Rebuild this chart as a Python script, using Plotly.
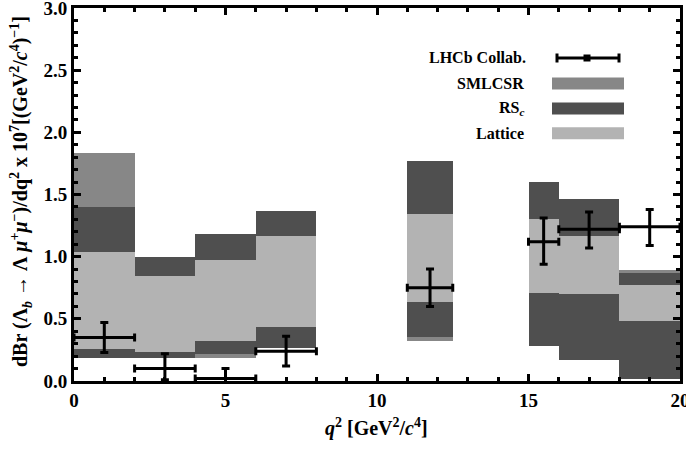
import plotly.graph_objects as go

# ---------------- data ----------------
bin_lo = [0, 2, 4, 6, 11, 15, 16, 18]
bin_hi = [2, 4, 6, 8, 12.5, 16, 18, 20]

sml_lo = [0.19, 0.20, 0.183, 0.27, 0.32, 0.35, 0.25, 0.05]
sml_hi = [1.83, 0.95, 1.10, 1.30, 1.70, 1.50, 1.40, 0.895]

rs_lo = [0.183, 0.183, 0.218, 0.264, 0.352, 0.285, 0.17, 0.016]
rs_hi = [1.40, 1.00, 1.18, 1.365, 1.766, 1.60, 1.465, 0.868]

lat_lo = [0.258, 0.236, 0.32, 0.433, 0.634, 0.707, 0.70, 0.484]
lat_hi = [1.04, 0.847, 0.97, 1.17, 1.347, 1.30, 1.17, 0.77]

lhcb_x = [1, 3, 5, 7, 11.75, 15.5, 17, 19]
lhcb_xerr = [1, 1, 1, 1, 0.75, 0.5, 1, 1]
lhcb_y = [0.35, 0.10, 0.02, 0.24, 0.75, 1.12, 1.22, 1.24]
lhcb_up = [0.12, 0.12, 0.08, 0.12, 0.15, 0.19, 0.14, 0.14]
lhcb_dn = [0.12, 0.09, 0.10, 0.12, 0.15, 0.18, 0.15, 0.15]

series_names = ["SMLCSR", "RS<sub><i>c</i></sub>", "Lattice"]
series_colors = ["#878787", "#4f4f4f", "#b3b3b3"]

FONT = "Liberation Serif"

centers = [(a + b) / 2 for a, b in zip(bin_lo, bin_hi)]
widths = [b - a for a, b in zip(bin_lo, bin_hi)]

fig = go.Figure()
for lo, hi, col, name in zip([sml_lo, rs_lo, lat_lo], [sml_hi, rs_hi, lat_hi],
                             series_colors, series_names):
    fig.add_trace(go.Bar(
        x=centers, width=widths, base=lo, y=[h - l for l, h in zip(lo, hi)],
        marker=dict(color=col, line=dict(width=0)), name=name, showlegend=False,
        hoverinfo="skip"))

fig.add_trace(go.Scatter(
    x=lhcb_x, y=lhcb_y, mode="markers",
    marker=dict(color="black", size=3),
    error_x=dict(type="data", array=lhcb_xerr, color="black", thickness=3, width=4),
    error_y=dict(type="data", symmetric=False, array=lhcb_up, arrayminus=lhcb_dn,
                 color="black", thickness=3, width=4),
    name="LHCb Collab.", showlegend=False))

# ---------------- layout geometry ----------------
W, H = 686, 449
ML, MR, MT, MB = 74, 6, 8, 68
PW, PH = W - ML - MR, H - MT - MB


def px(x):
    return (x - ML) / PW


def py(y):
    return (H - MB - y) / PH


shapes = []
annotations = []

# manual legend
leg_text_right = 526
rows = [("LHCb Collab.", 58, None), (series_names[0], 83.5, series_colors[0]),
        (series_names[1], 108.5, series_colors[1]), (series_names[2], 133.3, series_colors[2])]
for label, yy, col in rows:
    annotations.append(dict(xref="paper", yref="paper", x=px(leg_text_right + (2 if col is None else 0)),
                            y=py(yy), xanchor="right", yanchor="middle", showarrow=False,
                            text="<b>" + label + "</b>",
                            font=dict(family=FONT, size=16, color="black")))
    if col is not None:
        shapes.append(dict(type="rect", xref="paper", yref="paper",
                           x0=px(552), x1=px(624), y0=py(yy - 6), y1=py(yy + 6),
                           fillcolor=col, line=dict(width=0)))
    else:
        shapes.append(dict(type="line", xref="paper", yref="paper",
                           x0=px(557), x1=px(619), y0=py(yy), y1=py(yy),
                           line=dict(color="black", width=3)))
        for cx in (557, 619):
            shapes.append(dict(type="line", xref="paper", yref="paper",
                               x0=px(cx), x1=px(cx), y0=py(yy - 4.5), y1=py(yy + 4.5),
                               line=dict(color="black", width=3)))
        shapes.append(dict(type="rect", xref="paper", yref="paper",
                           x0=px(583.5), x1=px(590.5), y0=py(yy - 3.5), y1=py(yy + 3.5),
                           fillcolor="black", line=dict(width=0)))

# axis titles
annotations.append(dict(xref="paper", yref="paper", x=px(21), y=py(192),
                        xanchor="center", yanchor="middle", textangle=-90, showarrow=False,
                        text="<b>dBr (Λ<sub><i>b</i></sub> → Λ <i>μ</i><sup>+</sup><i>μ</i><sup>−</sup>)/dq<sup>2</sup>"
                             " x 10<sup>7</sup>[(GeV<sup>2</sup>/<i>c</i><sup>4</sup>)<sup>−1</sup>]</b>",
                        font=dict(family=FONT, size=20, color="black")))
annotations.append(dict(xref="paper", yref="paper", x=px(376), y=py(427),
                        xanchor="center", yanchor="middle", showarrow=False,
                        text="<b><i>q</i><sup>2</sup> [GeV<sup>2</sup>/<i>c</i><sup>4</sup>]</b>",
                        font=dict(family=FONT, size=20, color="black")))

axis_common = dict(showline=True, linewidth=3, linecolor="black", mirror="allticks",
                   ticks="inside", tickcolor="black", tickwidth=2.5, ticklen=7,
                   showgrid=False, zeroline=False, automargin=False,
                   ticklabeloverflow="allow",
                   tickfont=dict(family=FONT, size=19, color="black"))

fig.update_layout(
    width=W, height=H,
    margin=dict(l=ML, r=MR, t=MT, b=MB),
    paper_bgcolor="white", plot_bgcolor="white",
    barmode="overlay", bargap=0,
    showlegend=False,
    font=dict(family=FONT, color="black"),
    shapes=shapes, annotations=annotations,
    xaxis=dict(range=[0, 20], dtick=5, tick0=0,
               minor=dict(dtick=1, ticks="inside", ticklen=4, tickwidth=2.5, tickcolor="black"),
               **axis_common),
    yaxis=dict(range=[0, 3], dtick=0.5, tick0=0, tickformat=".1f",
               minor=dict(dtick=0.1, ticks="inside", ticklen=4, tickwidth=2.5, tickcolor="black"),
               **axis_common),
)
fig.update_xaxes(tickprefix="<b>", ticksuffix="</b>")
fig.update_yaxes(tickprefix="<b>", ticksuffix="</b>")

fig.write_html("out.html", config={"displayModeBar": False},
               post_script="document.body.style.margin='0';document.body.style.overflow='hidden';")
